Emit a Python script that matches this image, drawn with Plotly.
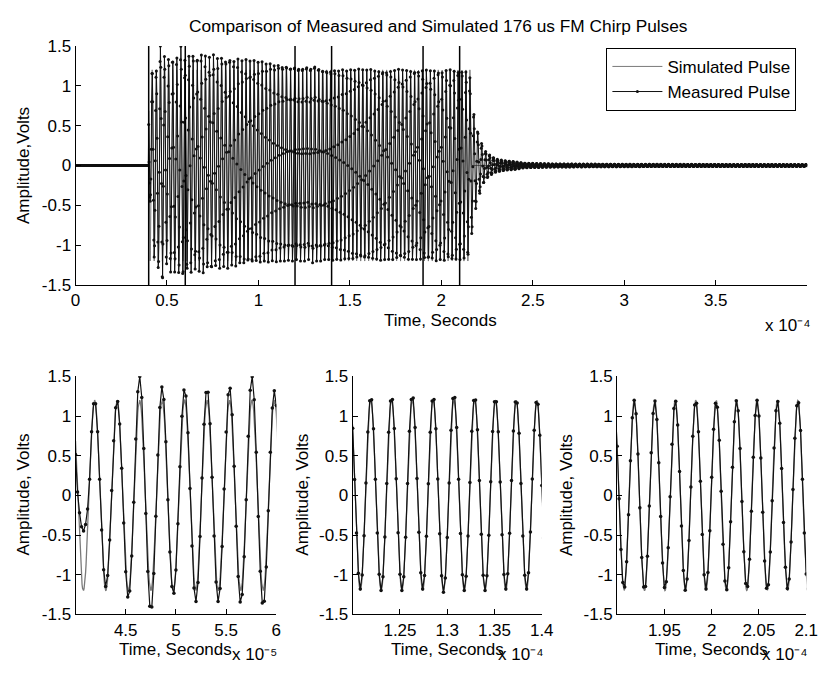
import numpy as np
import plotly.graph_objects as go

# ---------------- values ----------------
TITLE = "Comparison of Measured and Simulated 176 us FM Chirp Pulses"
SERIES_NAMES = ["Simulated Pulse", "Measured Pulse"]

PULSE_START_US = 40.0          # chirp switched on
PULSE_END_US = 216.0           # 176 us later
FIRST_PEAK_US = 41.9           # first positive crest of the simulated chirp
CHIRP_F0_MHZ = 0.4458          # carrier at first crest (~446 kHz)
CHIRP_RATE_MHZ_PER_US = 1.04e-4  # sweep rate (~446 -> 464 kHz)
SIM_AMPLITUDE = 1.2
RECORD_END_US = 400.0
SIM_STEP_US = 0.05
MEAS_STEP_US = 0.2

# measured crest heights, one per cycle (cycle -1 .. 79)
MEAS_UPPER = [0.9,
              1.2, 1.2, 1.5, 1.37, 1.35, 1.35, 1.37, 1.5, 1.32,
              1.38, 1.4, 1.37, 1.41, 1.38, 1.36, 1.39, 1.35, 1.37, 1.34, 1.36, 1.33, 1.35, 1.32,
              1.33, 1.31, 1.32, 1.3, 1.31, 1.29, 1.3, 1.28, 1.29, 1.27, 1.28, 1.26, 1.27,
              1.25, 1.25, 1.27, 1.25, 1.28, 1.25, 1.23, 1.22, 1.21,
              1.22, 1.21, 1.22, 1.2, 1.21, 1.2, 1.21, 1.2, 1.2, 1.21, 1.2, 1.2, 1.21, 1.2, 1.2,
              1.2, 1.21, 1.2, 1.2, 1.2, 1.21, 1.2, 1.2,
              1.2, 1.19, 1.2, 1.2, 1.19, 1.2, 1.2, 1.19, 1.2,
              1.2, 1.18, 1.1]
# measured trough depths, one per cycle (trough after crest -1 .. 79)
MEAS_LOWER = [-0.45,
              -1.15, -1.3, -1.46, -1.25, -1.34, -1.34, -1.36, -1.4,
              -1.32, -1.35, -1.3, -1.33, -1.36, -1.3, -1.32, -1.28, -1.3, -1.27, -1.29, -1.25, -1.27, -1.24, -1.25,
              -1.23, -1.24, -1.22, -1.23, -1.21, -1.22, -1.2, -1.21, -1.2, -1.2, -1.19, -1.2,
              -1.18, -1.2, -1.2, -1.18, -1.22, -1.2, -1.2, -1.18, -1.18,
              -1.19, -1.18, -1.19, -1.18, -1.18, -1.19, -1.18, -1.18, -1.19, -1.18, -1.18, -1.18,
              -1.19, -1.18, -1.18, -1.19, -1.18, -1.18, -1.18, -1.19, -1.18, -1.18, -1.18,
              -1.18, -1.2, -1.18, -1.2, -1.18, -1.2, -1.18, -1.2, -1.18,
              -1.18, -1.17, -1.15, -1.0]
# ring-down of the measured pulse after switch-off
RING_TIME_US = [216.0, 216.7, 217.5, 218.6, 220.0, 222.0, 224.0, 227.0, 230.0, 235.0, 240.0, 245.0, 260.0, 300.0, 400.0]
RING_AMP = [1.0, 0.85, 0.68, 0.56, 0.42, 0.28, 0.18, 0.12, 0.08, 0.06, 0.05, 0.03, 0.02, 0.015, 0.012]

WINDOW_EDGES_E4 = [0.4, 0.6, 1.2, 1.4, 1.9, 2.1]
ZOOM_RANGES = [(4.0, 6.0), (1.2, 1.4), (1.9, 2.1)]
ZOOM_EXP = [-5, -4, -4]
ZOOM_EXP_TEXT = ["x 10\u207b\u2075", "x 10\u207b\u2074", "x 10\u207b\u2074"]
TOP_EXP_TEXT = "x 10\u207b\u2074"
ZOOM_TICKS = [[4.5, 5, 5.5, 6], [1.25, 1.3, 1.35, 1.4], [1.95, 2, 2.05, 2.1]]
ZOOM_TICK_TEXT = [["4.5", "5", "5.5", "6"], ["1.25", "1.3", "1.35", "1.4"], ["1.95", "2", "2.05", "2.1"]]
TOP_RANGE_E4 = (0.0, 4.0)
TOP_TICKS = [0, 0.5, 1, 1.5, 2, 2.5, 3, 3.5]
TOP_TICK_TEXT = ["0", "0.5", "1", "1.5", "2", "2.5", "3", "3.5"]
Y_RANGE = (-1.5, 1.5)
Y_TICKS = [-1.5, -1, -0.5, 0, 0.5, 1, 1.5]
Y_TICK_TEXT = ["-1.5", "-1", "-0.5", "0", "0.5", "1", "1.5"]

# ---------------- build waveforms ----------------
def cycles(t_us):
    tau = t_us - FIRST_PEAK_US
    return CHIRP_F0_MHZ * tau + 0.5 * CHIRP_RATE_MHZ_PER_US * tau ** 2

t_sim = np.arange(0, RECORD_END_US + SIM_STEP_US / 2, SIM_STEP_US)
on_sim = (t_sim >= PULSE_START_US) & (t_sim <= PULSE_END_US)
sim = np.where(on_sim, SIM_AMPLITUDE * np.cos(2 * np.pi * cycles(t_sim)), 0.0)

t_meas = np.arange(0, RECORD_END_US + MEAS_STEP_US / 2, MEAS_STEP_US)
n_meas = cycles(t_meas)
c_meas = np.cos(2 * np.pi * n_meas)
up = np.array(MEAS_UPPER)
lo = np.array(MEAS_LOWER)
meas = np.zeros_like(t_meas)
for i, (t, n, c) in enumerate(zip(t_meas, n_meas, c_meas)):
    if PULSE_START_US <= t <= PULSE_END_US:
        if c >= 0:
            k = int(np.clip(np.round(n) + 1, 0, len(up) - 1))
            meas[i] = up[k] * c
        else:
            k = int(np.clip(np.floor(n) + 1, 0, len(lo) - 1))
            meas[i] = lo[k] * (-c)
    elif t > PULSE_END_US:
        meas[i] = np.interp(t, RING_TIME_US, RING_AMP) * c

ts_sim = t_sim * 1e-6
ts_meas = t_meas * 1e-6

# ---------------- figure ----------------
FONT = "Liberation Sans, Arial, sans-serif"
FS = 17
SIM_COLOR = "#7a7a7a"
MEAS_COLOR = "#111111"

fig = go.Figure()

# top panel
fig.add_trace(go.Scatter(x=ts_sim, y=sim, mode="lines", name=SERIES_NAMES[0],
                         line=dict(color=SIM_COLOR, width=1), xaxis="x", yaxis="y"))
fig.add_trace(go.Scatter(x=ts_meas, y=meas, mode="lines+markers", name=SERIES_NAMES[1],
                         line=dict(color=MEAS_COLOR, width=1),
                         marker=dict(color=MEAS_COLOR, size=3),
                         xaxis="x", yaxis="y"))
wx, wy = [], []
for e in WINDOW_EDGES_E4:
    wx += [e * 1e-4, e * 1e-4, None]
    wy += [Y_RANGE[0], Y_RANGE[1], None]
fig.add_trace(go.Scatter(x=wx, y=wy, mode="lines", showlegend=False, hoverinfo="skip",
                         line=dict(color="black", width=1.5), xaxis="x", yaxis="y"))

# zoomed panels
for j, (rng, ex) in enumerate(zip(ZOOM_RANGES, ZOOM_EXP)):
    lo_s, hi_s = rng[0] * 10.0 ** ex, rng[1] * 10.0 ** ex
    pad = 0.5e-6
    ms = (ts_sim >= lo_s - pad) & (ts_sim <= hi_s + pad)
    mm = (ts_meas >= lo_s - pad) & (ts_meas <= hi_s + pad)
    xa, ya = "x%d" % (j + 2), "y%d" % (j + 2)
    fig.add_trace(go.Scatter(x=ts_sim[ms], y=sim[ms], mode="lines", showlegend=False,
                             line=dict(color=SIM_COLOR, width=1.3), xaxis=xa, yaxis=ya))
    fig.add_trace(go.Scatter(x=ts_meas[mm], y=meas[mm], mode="lines+markers", showlegend=False,
                             line=dict(color=MEAS_COLOR, width=1.2),
                             marker=dict(color=MEAS_COLOR, size=3.5),
                             xaxis=xa, yaxis=ya))

W, H = 828, 674
def px_x(p):
    return p / W
def px_y(p):
    return 1 - p / H

axis_common = dict(showgrid=False, zeroline=False, showline=True, linecolor="black", linewidth=1,
                   ticks="inside", ticklen=5, tickwidth=1, tickcolor="black", mirror=False,
                   tickfont=dict(family=FONT, size=FS, color="black"))

layout = dict(
    width=W, height=H, margin=dict(l=0, r=0, t=0, b=0),
    paper_bgcolor="white", plot_bgcolor="white",
    font=dict(family=FONT, size=FS, color="black"),
    showlegend=True,
    legend=dict(x=px_x(614), y=px_y(40), xanchor="left", yanchor="top",
                bordercolor="black", borderwidth=1, bgcolor="white",
                font=dict(family=FONT, size=FS, color="black"), itemwidth=50,
                tracegroupgap=0),
)

layout["xaxis"] = dict(axis_common, domain=[px_x(72), px_x(819)], anchor="y",
                       range=[TOP_RANGE_E4[0] * 1e-4, TOP_RANGE_E4[1] * 1e-4],
                       tickvals=[v * 1e-4 for v in TOP_TICKS], ticktext=TOP_TICK_TEXT)
layout["yaxis"] = dict(axis_common, domain=[px_y(284), px_y(38)], anchor="x",
                       range=list(Y_RANGE), tickvals=Y_TICKS, ticktext=Y_TICK_TEXT)

zoom_x_px = [(72, 277), (355, 548), (625, 818)]
for j in range(3):
    ex = ZOOM_EXP[j]
    layout["xaxis%d" % (j + 2)] = dict(axis_common, domain=[px_x(zoom_x_px[j][0]), px_x(zoom_x_px[j][1])],
                                       anchor="y%d" % (j + 2),
                                       range=[ZOOM_RANGES[j][0] * 10.0 ** ex, ZOOM_RANGES[j][1] * 10.0 ** ex],
                                       tickvals=[v * 10.0 ** ex for v in ZOOM_TICKS[j]],
                                       ticktext=ZOOM_TICK_TEXT[j])
    layout["yaxis%d" % (j + 2)] = dict(axis_common, domain=[px_y(623), px_y(378)],
                                       anchor="x%d" % (j + 2),
                                       range=list(Y_RANGE), tickvals=Y_TICKS, ticktext=Y_TICK_TEXT)

ann = []
def text(x, y, s, size=FS, angle=0, xanchor="center"):
    ann.append(dict(x=px_x(x), y=px_y(y), xref="paper", yref="paper", text=s, showarrow=False,
                    font=dict(family=FONT, size=size, color="black"), textangle=angle,
                    xanchor=xanchor, yanchor="middle"))

text(443, 17, TITLE, size=17.3)
text(445, 321, "Time, Seconds")
text(824, 326, TOP_EXP_TEXT, xanchor="right")
text(19, 161, "Amplitude,Volts", angle=-90)
for j, (x0, x1) in enumerate(zoom_x_px):
    text((x0 + x1) / 2, 659, "Time, Seconds")
    text(x1 + 3, 664, ZOOM_EXP_TEXT[j], xanchor="right")
for xc in (19, 304, 574):
    text(xc, 500, "Amplitude, Volts", angle=-90)
layout["annotations"] = ann

fig.update_layout(**layout)
fig.write_html("out.html")
